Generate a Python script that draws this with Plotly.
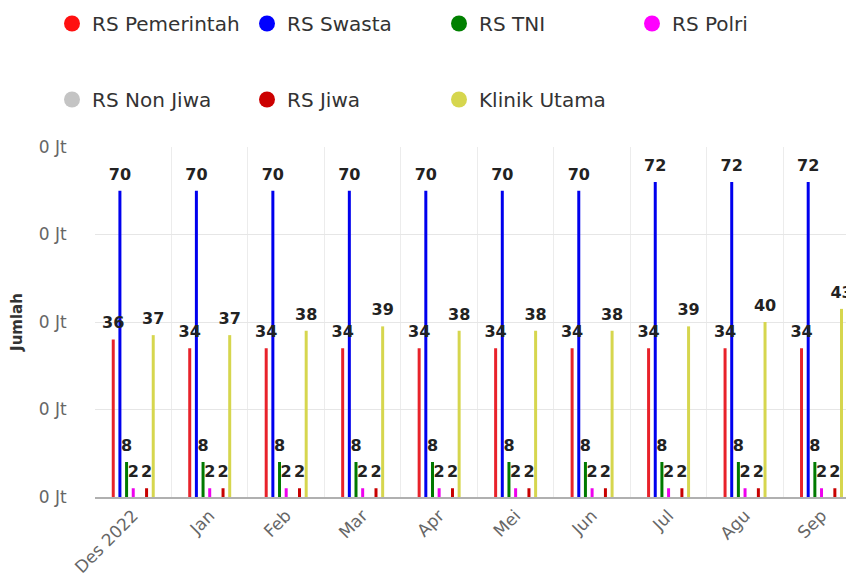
import plotly.graph_objects as go

categories = ["Des 2022", "Jan", "Feb", "Mar", "Apr", "Mei", "Jun", "Jul", "Agu", "Sep"]

rs_pemerintah = [36, 34, 34, 34, 34, 34, 34, 34, 34, 34]
rs_swasta = [70, 70, 70, 70, 70, 70, 70, 72, 72, 72]
rs_tni = [8, 8, 8, 8, 8, 8, 8, 8, 8, 8]
rs_polri = [2, 2, 2, 2, 2, 2, 2, 2, 2, 2]
rs_non_jiwa = [0, 0, 0, 0, 0, 0, 0, 0, 0, 0]
rs_jiwa = [2, 2, 2, 2, 2, 2, 2, 2, 2, 2]
klinik_utama = [37, 37, 38, 39, 38, 38, 38, 39, 40, 43]

y_tick_vals = [0, 20, 40, 60, 80]
y_tick_text = ["0 Jt", "0 Jt", "0 Jt", "0 Jt", "0 Jt"]

series = [
    ("RS Pemerintah", rs_pemerintah, "#e8222a"),
    ("RS Swasta", rs_swasta, "#0000ee"),
    ("RS TNI", rs_tni, "#007a00"),
    ("RS Polri", rs_polri, "#ee00ee"),
    ("RS Non Jiwa", rs_non_jiwa, "#c4c4c4"),
    ("RS Jiwa", rs_jiwa, "#c80000"),
    ("Klinik Utama", klinik_utama, "#d6d64e"),
]
legend_colors = ["#ff1010", "#0000ff", "#008000", "#ff00ff", "#c4c4c4", "#cc0000", "#d6d64e"]

# legend slot (symbol centre x, row top y) in pixels
legend_slots = [(72, 4), (267, 4), (459, 4), (652, 4), (72, 80), (267, 80), (459, 80)]

fig = go.Figure()
for name, vals, color in series:
    fig.add_trace(go.Bar(
        x=categories, y=vals, name=name, offsetgroup=name,
        marker=dict(color=color, line=dict(width=0)),
        showlegend=False, hoverinfo="x+y+name",
    ))
# data labels (grouped scatter so they sit over their bars)
for name, vals, color in series:
    fig.add_trace(go.Scatter(
        x=categories, y=vals, name=name, offsetgroup=name,
        mode="markers+text",
        marker=dict(size=10, color="rgba(0,0,0,0)", opacity=0),
        text=[str(v) if v else "" for v in vals],
        textposition="top center",
        textfont=dict(family="DejaVu Sans", size=16, color="#222222", weight="bold"),
        cliponaxis=True, showlegend=False, hoverinfo="skip",
    ))

legend_layouts = {}
for i, (name, vals, color) in enumerate(series):
    key = "legend" if i == 0 else f"legend{i + 1}"
    fig.add_trace(go.Scatter(
        x=[None], y=[None], mode="markers", name=name, offsetgroup=name,
        marker=dict(color=legend_colors[i], size=16, symbol="circle"),
        legend=key, showlegend=True,
    ))
    sx, sy = legend_slots[i]
    legend_layouts[key] = dict(
        orientation="h", xref="container", yref="container",
        xanchor="left", yanchor="top",
        x=(sx - 20) / 846, y=1 - sy / 586,
        font=dict(family="DejaVu Sans", size=20, color="#333333"),
        bgcolor="rgba(0,0,0,0)", itemclick=False,
    )

fig.update_layout(
    width=846, height=586,
    margin=dict(l=95, r=0, t=147, b=89),
    paper_bgcolor="white", plot_bgcolor="white",
    barmode="group", bargap=0.39, bargroupgap=0.55,
    scattermode="group", scattergap=0.39,
    font=dict(family="DejaVu Sans", color="#555555"),
    xaxis=dict(
        type="category", range=[-0.5, 9.32],
        tickson="boundaries", showgrid=True, gridcolor="#ececec", gridwidth=1,
        showline=True, linecolor="#b0b0b0", linewidth=2,
        tickangle=-45, ticks="outside", ticklen=17, tickcolor="rgba(0,0,0,0)",
        tickfont=dict(family="DejaVu Sans", size=17, color="#666666"),
        fixedrange=True,
    ),
    yaxis=dict(
        range=[0, 80], tickvals=y_tick_vals, ticktext=y_tick_text,
        showgrid=True, gridcolor="#e6e6e6", gridwidth=1, zeroline=False,
        ticks="outside", ticklen=24, tickcolor="rgba(0,0,0,0)",
        tickfont=dict(family="DejaVu Sans", size=17, color="#666666"),
        title=dict(text="<b>Jumlah</b>", standoff=12,
                   font=dict(family="DejaVu Sans", size=15, color="#333333")),
        fixedrange=True,
    ),
    **legend_layouts,
)

fig.write_html("out.html")
